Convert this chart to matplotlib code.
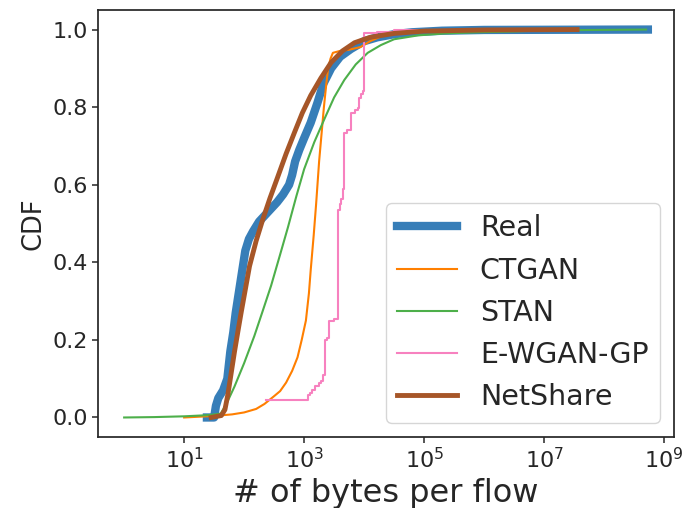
import numpy as np
import matplotlib
matplotlib.use("Agg")
import matplotlib.pyplot as plt
from matplotlib.ticker import NullLocator, FixedLocator, LogFormatterSciNotation

# CDF of bytes per flow; x positions stored as log10(bytes)
real_logx = [1.38, 1.50, 1.53, 1.57, 1.65, 1.72, 1.77, 1.82, 1.86, 1.92, 1.97, 2.02,
             2.08, 2.15, 2.25, 2.40, 2.55, 2.65, 2.75, 2.80, 2.85, 2.92, 3.00, 3.11,
             3.22, 3.32, 3.45, 3.60, 3.78, 4.00, 4.22, 4.50, 4.80, 5.30, 6.00, 8.73]
real_cdf = [0.0, 0.0, 0.03, 0.05, 0.07, 0.10, 0.17, 0.22, 0.27, 0.33, 0.38, 0.43,
            0.46, 0.48, 0.505, 0.53, 0.555, 0.575, 0.60, 0.625, 0.66, 0.69, 0.72, 0.76,
            0.81, 0.86, 0.90, 0.93, 0.95, 0.97, 0.98, 0.988, 0.993, 0.997, 0.999, 1.0]

ctgan_logx = [1.0, 1.5, 1.8, 2.0, 2.2, 2.34, 2.5, 2.6, 2.7, 2.8, 2.89, 2.96, 3.03,
              3.08, 3.11, 3.16, 3.20, 3.25, 3.29, 3.33, 3.37, 3.40, 3.44, 3.48, 3.60,
              3.75, 3.94, 4.1, 4.4, 5.0, 6.0, 7.5]
ctgan_cdf = [0.0, 0.004, 0.008, 0.013, 0.022, 0.035, 0.055, 0.068, 0.09, 0.12, 0.155,
             0.20, 0.25, 0.32, 0.38, 0.47, 0.55, 0.66, 0.73, 0.80, 0.86, 0.90, 0.925,
             0.94, 0.945, 0.948, 0.955, 0.97, 0.99, 0.997, 0.999, 1.0]

stan_logx = [0.0, 0.5, 1.0, 1.4, 1.61, 1.72, 1.84, 2.0, 2.17, 2.30, 2.45, 2.60, 2.73,
             2.87, 3.0, 3.17, 3.34, 3.50, 3.67, 3.86, 4.06, 4.28, 4.5, 4.9, 5.34, 5.9,
             6.5, 7.0, 8.7]
stan_cdf = [0.0, 0.001, 0.003, 0.006, 0.01, 0.04, 0.08, 0.14, 0.21, 0.27, 0.34, 0.42,
            0.49, 0.57, 0.64, 0.71, 0.77, 0.825, 0.87, 0.91, 0.94, 0.96, 0.975, 0.985,
            0.99, 0.993, 0.995, 0.998, 1.0]

ewgan_logx = [2.36, 3.06, 3.10, 3.13, 3.18, 3.24, 3.28, 3.32, 3.34, 3.34, 3.38, 3.42,
              3.42, 3.50, 3.56, 3.59, 3.61, 3.64, 3.665, 3.72, 3.78, 3.85, 3.89, 3.92,
              3.95, 3.975, 4.0, 4.22, 4.5, 5.0]
ewgan_cdf = [0.046, 0.059, 0.064, 0.072, 0.080, 0.089, 0.095, 0.11, 0.124, 0.20, 0.205,
             0.218, 0.248, 0.255, 0.536, 0.55, 0.562, 0.588, 0.734, 0.742, 0.785, 0.792,
             0.798, 0.824, 0.835, 0.841, 0.991, 0.993, 0.998, 1.0]

netshare_logx = [1.45, 1.62, 1.68, 1.73, 1.78, 1.84, 1.90, 1.95, 2.02, 2.09, 2.20, 2.31,
                 2.43, 2.56, 2.70, 2.84, 2.97, 3.11, 3.28, 3.45, 3.64, 3.84, 4.1, 4.5,
                 5.0, 6.0, 7.55]
netshare_cdf = [0.0, 0.005, 0.02, 0.06, 0.11, 0.17, 0.225, 0.27, 0.33, 0.39, 0.455, 0.51,
                0.565, 0.62, 0.68, 0.735, 0.785, 0.83, 0.875, 0.915, 0.945, 0.966, 0.98,
                0.99, 0.996, 0.999, 1.0]

xtick_exponents = [1, 3, 5, 7, 9]

dark = "#262626"
plt.rcParams.update({
    "font.family": ["DejaVu Sans"],
    "text.color": dark,
    "axes.labelcolor": dark,
    "axes.edgecolor": dark,
    "xtick.color": dark,
    "ytick.color": dark,
    "axes.linewidth": 1.25,
})

fig = plt.figure(figsize=(6.85, 5.08), dpi=100)
ax = fig.add_axes([0.143, 0.140, 0.841, 0.840])

series = [
    ("Real", real_logx, real_cdf, "#377eb8", 6, None),
    ("CTGAN", ctgan_logx, ctgan_cdf, "#ff7f00", 1.5, None),
    ("STAN", stan_logx, stan_cdf, "#4daf4a", 1.5, None),
    ("E-WGAN-GP", ewgan_logx, ewgan_cdf, "#f781bf", 1.5, "steps-post"),
    ("NetShare", netshare_logx, netshare_cdf, "#a65628", 3.5, None),
]
for name, lx, cdf, color, lw, ds in series:
    kw = {"drawstyle": ds} if ds else {}
    ax.plot(np.power(10.0, lx), cdf, color=color, lw=lw, label=name, **kw)

ax.set_xscale("log")
ax.xaxis.set_major_locator(FixedLocator([10.0 ** k for k in xtick_exponents]))
ax.xaxis.set_major_formatter(LogFormatterSciNotation())
ax.xaxis.set_minor_locator(NullLocator())
ax.set_yticks([0.0, 0.2, 0.4, 0.6, 0.8, 1.0])
ax.tick_params(labelsize=16, length=4, width=1.1)

ax.set_xlabel("# of bytes per flow", fontsize=23)
ax.set_ylabel("CDF", fontsize=18.5)

ax.legend(loc="lower right", fontsize=20.5, handlelength=2.1, frameon=True)

fig.savefig("out.png", dpi=100)
